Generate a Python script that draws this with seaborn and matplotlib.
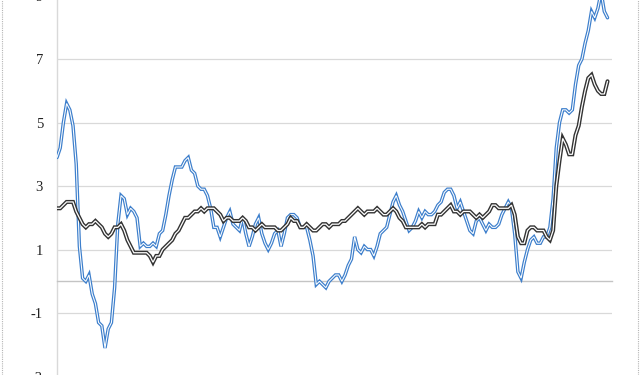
import numpy as np
import pandas as pd
import matplotlib
matplotlib.use("Agg")
import matplotlib.pyplot as plt
from matplotlib.lines import Line2D
import seaborn as sns

# Monthly YoY inflation, Apr 2008 .. Aug 2022
headline = [
    3.9, 4.2, 5.0, 5.6, 5.4, 4.9, 3.7, 1.1, 0.1,
    0.0, 0.2, -0.4, -0.7, -1.3, -1.4, -2.1, -1.5, -1.3, -0.2, 1.8, 2.7,
    2.6, 2.1, 2.3, 2.2, 2.0, 1.1, 1.2, 1.1, 1.1, 1.2, 1.1, 1.5,
    1.6, 2.1, 2.7, 3.2, 3.6, 3.6, 3.6, 3.8, 3.9, 3.5, 3.4, 3.0,
    2.9, 2.9, 2.7, 2.3, 1.7, 1.7, 1.4, 1.7, 2.0, 2.2, 1.8, 1.7,
    1.6, 2.0, 1.5, 1.1, 1.4, 1.8, 2.0, 1.5, 1.2, 1.0, 1.2, 1.5,
    1.6, 1.1, 1.5, 2.0, 2.1, 2.1, 2.0, 1.7, 1.7, 1.7, 1.3, 0.8,
    -0.1, 0.0, -0.1, -0.2, 0.0, 0.1, 0.2, 0.2, 0.0, 0.2, 0.5, 0.7,
    1.4, 1.0, 0.9, 1.1, 1.0, 1.0, 0.8, 1.1, 1.5, 1.6, 1.7, 2.1,
    2.5, 2.7, 2.4, 2.2, 1.9, 1.6, 1.7, 1.9, 2.2, 2.0, 2.2, 2.1,
    2.1, 2.2, 2.4, 2.5, 2.8, 2.9, 2.9, 2.7, 2.3, 2.5, 2.2, 1.9,
    1.6, 1.5, 1.9, 2.0, 1.8, 1.6, 1.8, 1.7, 1.7, 1.8, 2.1, 2.3,
    2.5, 2.3, 1.5, 0.3, 0.1, 0.6, 1.0, 1.3, 1.4, 1.2, 1.2, 1.4,
    1.4, 1.7, 2.6, 4.2, 5.0, 5.4, 5.4, 5.3, 5.4, 6.2, 6.8, 7.0,
    7.5, 7.9, 8.5, 8.3, 8.6, 9.1, 8.5, 8.3,
]
core = [
    2.3, 2.3, 2.4, 2.5, 2.5, 2.5, 2.2, 2.0, 1.8,
    1.7, 1.8, 1.8, 1.9, 1.8, 1.7, 1.5, 1.4, 1.5, 1.7, 1.7, 1.8,
    1.6, 1.3, 1.1, 0.9, 0.9, 0.9, 0.9, 0.9, 0.8, 0.6, 0.8, 0.8,
    1.0, 1.1, 1.2, 1.3, 1.5, 1.6, 1.8, 2.0, 2.0, 2.1, 2.2, 2.2,
    2.3, 2.2, 2.3, 2.3, 2.3, 2.2, 2.1, 1.9, 2.0, 2.0, 1.9, 1.9,
    1.9, 2.0, 1.9, 1.7, 1.7, 1.6, 1.7, 1.8, 1.7, 1.7, 1.7, 1.7,
    1.6, 1.6, 1.7, 1.8, 2.0, 1.9, 1.9, 1.7, 1.7, 1.8, 1.7, 1.6,
    1.6, 1.7, 1.8, 1.8, 1.7, 1.8, 1.8, 1.8, 1.9, 1.9, 2.0, 2.1,
    2.2, 2.3, 2.2, 2.1, 2.2, 2.2, 2.2, 2.3, 2.2, 2.1, 2.1, 2.2,
    2.3, 2.2, 2.0, 1.9, 1.7, 1.7, 1.7, 1.7, 1.7, 1.8, 1.7, 1.8,
    1.8, 1.8, 2.1, 2.1, 2.2, 2.3, 2.4, 2.2, 2.2, 2.1, 2.2, 2.2,
    2.2, 2.1, 2.0, 2.1, 2.0, 2.1, 2.2, 2.4, 2.4, 2.3, 2.3, 2.3,
    2.3, 2.4, 2.1, 1.4, 1.2, 1.2, 1.6, 1.7, 1.7, 1.6, 1.6, 1.6,
    1.4, 1.3, 1.6, 3.0, 3.8, 4.5, 4.3, 4.0, 4.0, 4.6, 4.9, 5.5,
    6.0, 6.4, 6.5, 6.2, 6.0, 5.9, 5.9, 6.3,
]
y_ticks = [-3, -1, 1, 3, 5, 7, 9]
y_tick_labels = ["-3", "-1", "1", "3", "5", "7", "9"]

df = pd.DataFrame({"month": np.arange(len(headline)),
                   "headline": headline, "core": core})

sns.set_style("white")
plt.rcParams["font.family"] = ["Liberation Serif", "DejaVu Serif"]

fig = plt.figure(figsize=(6.4, 3.75), dpi=100)
ax = fig.add_axes([57 / 640, -0.0296, (612 - 57) / 640, 1.0415])

ax.set_xlim(0, 173.4)
ax.set_ylim(-3.3, 9.0)

for yv in [-3, -1, 1, 3, 5, 7]:
    ax.axhline(yv, color="#d9d9d9", lw=0.9, zorder=0)

# blue double line
sns.lineplot(data=df, x="month", y="headline", ax=ax, color="#3d7fcc",
             lw=2.5, zorder=3, solid_joinstyle="miter")
sns.lineplot(data=df, x="month", y="headline", ax=ax, color="white",
             lw=0.75, zorder=4, solid_joinstyle="miter")
# black double line
sns.lineplot(data=df, x="month", y="core", ax=ax, color="#333333",
             lw=2.9, zorder=5, solid_joinstyle="miter")
sns.lineplot(data=df, x="month", y="core", ax=ax, color="white",
             lw=0.9, zorder=6, solid_joinstyle="miter")

ax.set_xlabel("")
ax.set_ylabel("")
ax.set_yticks(y_ticks)
ax.set_yticklabels(y_tick_labels)
ax.tick_params(axis="y", length=0, pad=10, labelsize=10.5, labelcolor="#222222")

ax.spines["bottom"].set_position(("data", 0))
ax.spines["bottom"].set_color("#c4c4c4")
ax.spines["bottom"].set_linewidth(1.0)
ax.spines["left"].set_color("#d9d9d9")
ax.spines["left"].set_linewidth(1.0)
ax.spines["top"].set_visible(False)
ax.spines["right"].set_visible(False)

ax.set_xticks(np.arange(0, 170, 12))
ax.tick_params(axis="x", direction="out", length=3, width=0.9,
               color="#c4c4c4", labelbottom=False)

for xf in [1.5 / 640, 637.5 / 640]:
    fig.add_artist(Line2D([xf, xf], [0, 1], transform=fig.transFigure,
                          color="#b5b5b5", lw=0.8, ls=(0, (1, 1))))

fig.savefig("out.png", dpi=100)
